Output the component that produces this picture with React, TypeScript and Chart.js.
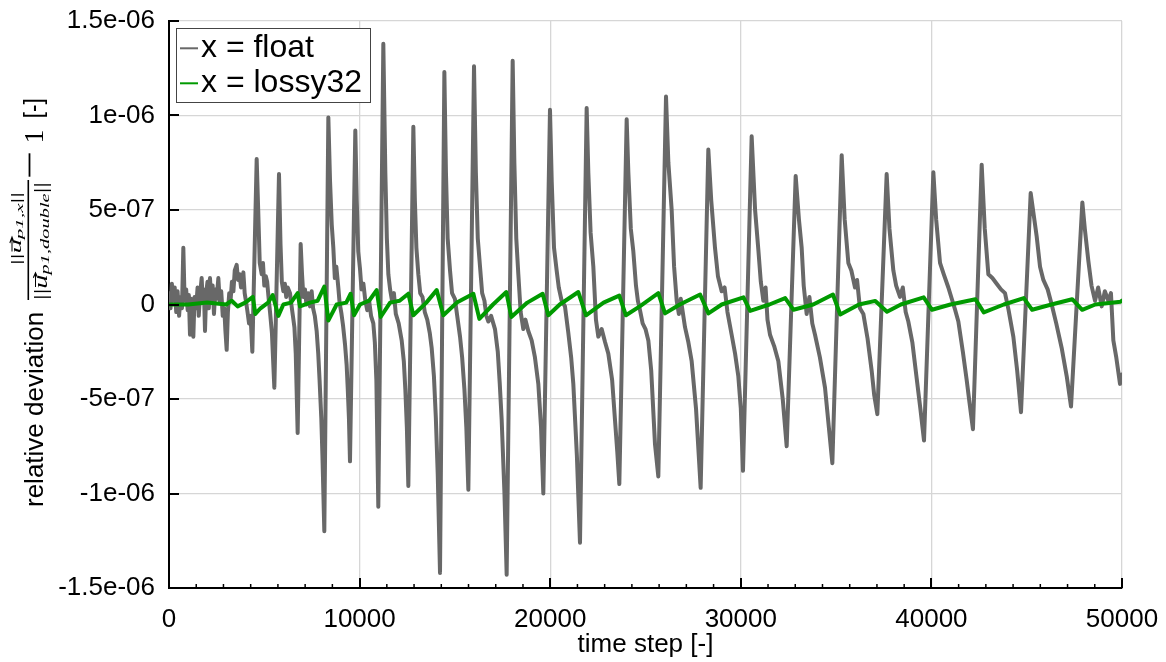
import React, { useEffect, useRef } from 'react';
import { Chart, registerables } from 'chart.js';
Chart.register(...registerables);

// ---------- data (deviation values in units of 1e-7) ----------
const floatStep = [
  0, 80, 150, 230, 300, 380, 450, 530, 600, 680, 752, 820, 900, 980, 1040, 1102, 1160, 1220, 1277, 1340,
  1420, 1500, 1560, 1630, 1714, 1770, 1830, 1889, 1950, 2020, 2090, 2151, 2220, 2290, 2360, 2430, 2500, 2589,
  2660, 2740, 2820, 2900, 2960, 3026, 3090, 3160, 3230, 3300, 3380, 3450, 3551, 3620, 3700, 3780, 3850, 3901,
  3970, 4050, 4120, 4200, 4280, 4372, 4600, 4680, 4760, 4863, 4930, 5000, 5080, 5150, 5230, 5300, 5400, 5527,
  5771, 5850, 5920, 5999, 6080, 6150, 6230, 6349, 6420, 6500, 6580, 6650, 6750, 6908, 6980, 7050, 7135, 7210,
  7300, 7400, 7484, 7560, 7650, 7747, 7830, 7900, 7990, 8050, 8149, 8360, 8450, 8540, 8622, 8700, 8780, 8884,
  8950, 9050, 9130, 9234, 9320, 9380, 9440, 9496, 9775, 9850, 9930, 10020, 10100, 10200, 10300, 10400, 10500,
  10600, 10720, 10800, 10880, 10982, 11245, 11350, 11430, 11508, 11600, 11700, 11800, 11900, 12050, 12208,
  12320, 12400, 12480, 12557, 12820, 12900, 12980, 13082, 13180, 13300, 13420, 13550, 13680, 13782, 13900,
  14000, 14100, 14219, 14447, 14530, 14620, 14744, 14850, 15000, 15120, 15269, 15380, 15500, 15600, 15706,
  16003, 16100, 16200, 16318, 16430, 16550, 16650, 16755, 16900, 17103, 17250, 17354, 17454, 17600, 17716,
  18031, 18120, 18220, 18328, 18450, 18590, 18700, 18850, 19027, 19200, 19377, 19520, 19639, 19989, 20080,
  20200, 20339, 20450, 20600, 20776, 20950, 21100, 21213, 21400, 21563, 21913, 22000, 22120, 22263, 22400,
  22525, 22700, 22880, 23049, 23250, 23399, 23520, 23627, 24012, 24100, 24230, 24362, 24500, 24600, 24711,
  24850, 25000, 25149, 25300, 25499, 25673, 26076, 26200, 26373, 26500, 26636, 26750, 26850, 27073, 27250,
  27422, 27650, 27894, 28296, 28450, 28646, 28800, 28996, 29150, 29300, 29520, 29700, 29870, 30000, 30115,
  30570, 30750, 30920, 31050, 31183, 31300, 31400, 31533, 31750, 31970, 32200, 32407, 32879, 33050, 33194,
  33300, 33456, 33600, 33750, 33894, 34150, 34418, 34620, 34803, 35293, 35450, 35642, 35800, 35992, 36100,
  36250, 36429, 36650, 36866, 37000, 37164, 37653, 37800, 38003, 38150, 38353, 38500, 38650, 38790, 39000,
  39227, 39420, 39612, 40102, 40250, 40452, 40650, 40889, 41100, 41250, 41414, 41650, 41851, 42000, 42180,
  42638, 42800, 42988, 43200, 43425, 43650, 43862, 44050, 44299, 44500, 44701, 45209, 45524, 45700, 45874,
  46100, 46311, 46550, 46835, 47100, 47325, 47920, 48050, 48235, 48400, 48585, 48750, 48934, 49100, 49284,
  49420, 49546, 49700, 49896, 49983,
];
const floatDev = [
  0.6, -0.2, 1.1, 0.2, 0.9, -0.4, 0.7, -0.6, 0.4, -0.2, 3.0, 0.2, 0.8, -0.3, 0.5, -1.6, 0.3, -0.5, -1.7, 0.4,
  -0.2, 0.9, -0.6, 0.5, 1.4, 0.1, 0.8, -1.4, 0.6, 1.2, -0.2, 1.4, 0.1, 1.0, -0.5, 0.8, 0.3, 1.4,
  0.2, 0.7, -0.6, -0.2, -1.4, -2.4, -0.4, 0.6, 0.2, 1.2, 0.7, 1.8, 2.1, 1.3, 1.6, 0.9, 1.2, 1.7,
  0.6, 0.1, -0.4, -1.0, -0.6, -2.5, 7.7, 5.0, 2.2, 1.6, 2.2, 1.0, 1.5, 1.2, 0.3, -0.4, -1.5, -4.4,
  6.9, 3.2, 1.2, 0.7, 1.1, 0.4, 0.9, 0.6, 0.0, -0.6, -1.2, -2.6, -6.8, 3.2, 1.6, 0.4, 0.8, 0.0,
  0.6, -0.1, 0.7, -0.2, -0.6, -1.4, -2.6, -4.0, -6.0, -8.0, -12.0, 9.9, 6.5, 4.2, 3.0, 1.4, 2.0, 0.9,
  0.1, -0.5, -1.1, -2.1, -3.2, -4.5, -6.0, -8.3, 9.2, 5.5, 2.8, 1.9, 0.8, 1.1, 0.2, -0.3, 0.2,
  -0.6, -1.0, -2.0, -4.0, -10.7, 13.8, 7.0, 3.5, 1.6, 0.8, 0.2, 0.6, -0.5, -1.0, -1.9,
  -3.0, -4.5, -6.5, -9.6, 9.4, 5.5, 3.0, 1.6, 0.6, 0.4, -0.4, -0.8, -1.5, -2.3, -3.8,
  -6.0, -9.0, -14.2, 12.3, 7.0, 3.5, 1.8, 0.6, 0.3, -0.6, -1.7, -2.8, -4.5, -6.5, -9.8,
  12.6, 7.0, 3.5, 2.0, 0.6, 0.2, -0.6, -0.9, -0.6, -1.3, -2.5, -4.2, -6.1, -10.0, -14.3,
  12.9, 7.5, 3.5, 1.6, -0.4, -1.3, -0.8, -1.4, -1.9, -2.8, -4.2, -6.5, -10.0, 10.3, 6.5,
  3.0, 1.8, 0.9, 0.2, -0.1, -1.5, -2.8, -4.2, -8.0, -12.6, 10.4, 7.0, 3.8, 2.0, -0.8,
  -1.7, -1.3, -2.0, -2.6, -4.0, -6.1, -7.8, -9.5, 9.8, 7.0, 4.0, 2.8, 1.0, 0.2, -0.3,
  -1.0, -1.3, -1.9, -3.5, -7.4, -9.1, 11.0, 7.5, 5.0, 2.0, 0.2, -0.5, 0.3, -1.2, -2.0,
  -3.0, -5.5, -9.7, 8.2, 5.5, 3.0, 1.5, 0.7, 0.9, -0.4, -1.6, -2.6, -3.8, -5.5, -8.8,
  8.9, 5.0, 2.9, 1.2, 0.2, 0.9, -0.8, -1.6, -2.2, -3.0, -5.0, -7.5, 6.8, 4.5, 3.0,
  1.0, -0.5, 0.4, -1.0, -1.6, -2.8, -4.4, -6.5, -8.4, 7.9, 4.5, 2.2, 1.8, 0.9, 1.3,
  -0.2, -0.5, -1.8, -3.5, -4.8, -5.8, 6.9, 4.0, 1.8, 1.0, 0.4, 0.9, -0.4, -0.9, -2.0,
  -3.9, -5.5, -7.2, 7.0, 4.5, 2.2, 1.6, 0.9, 0.2, -0.3, -0.9, -2.5, -4.0, -5.2, -6.6,
  7.4, 4.0, 1.6, 1.4, 1.1, 0.8, 0.6, -0.3, -1.7, -3.5, -5.7, 5.9, 3.6, 2.0, 1.3,
  0.8, 0.0, -1.0, -2.3, -3.8, -5.4, 5.4, 4.0, 2.3, 1.0, 0.2, 0.9, -0.1, 0.7, 0.2,
  0.6, -1.9, -2.8, -4.2, -3.7,
];
const lossyStep = [
  0, 1000, 2000, 3000, 3290, 3600, 4000, 4400, 4530, 4800, 5200, 5440, 5736, 6000, 6400, 6750, 6870, 7400,
  7800, 8149, 8359, 8797, 9300, 9531, 9706, 10020, 10500, 10895, 11105, 11600, 12100, 12558, 12820, 13500,
  14044, 14394, 15100, 15968, 16283, 17000, 17698, 17961, 18800, 19604, 19902, 20500, 21476, 21878, 22800,
  23623, 23973, 24700, 25673, 26025, 26800, 27864, 28302, 29000, 30140, 30490, 31500, 32329, 32767, 33800,
  34833, 35218, 36200, 37057, 37670, 38400, 39595, 40033, 41000, 42310, 42748, 43800, 44848, 45286, 46300,
  47387, 47912, 48600, 49925, 50000,
];
const lossyDev = [
  0.0, 0.0, 0.1, 0.0, 0.2, -0.1, 0.1, 0.4, -0.5, -0.2, 0.1, 0.5, -0.6, 0.0, 0.1, 0.6, -0.1, 0.1,
  0.2, 0.95, -0.85, 0.0, 0.1, 0.57, -0.57, 0.0, 0.2, 0.76, -0.66, 0.1, 0.2, 0.57, -0.57, 0.1,
  0.76, -0.57, 0.1, 0.57, -0.76, 0.0, 0.66, -0.66, 0.1, 0.57, -0.57, 0.0, 0.66, -0.57, 0.1,
  0.47, -0.57, -0.1, 0.6, -0.47, 0.0, 0.53, -0.47, 0.0, 0.38, -0.34, 0.0, 0.34, -0.28, 0.0,
  0.53, -0.53, 0.0, 0.19, -0.38, 0.0, 0.38, -0.28, 0.0, 0.28, -0.42, 0.0, 0.34, -0.28, 0.0,
  0.28, -0.28, 0.0, 0.15, 0.2,
];
const seriesLabels = ['x = float', 'x = lossy32'];
const seriesColors = ['#686868', '#009a00'];
const xTickValues = [0, 10000, 20000, 30000, 40000, 50000];
const yTickLabels = ['-1.5e-06', '-1e-06', '-5e-07', '0', '5e-07', '1e-06', '1.5e-06'];
const xTitle = 'time step [-]';
const yTitleText = 'relative deviation';

const SANS = "'Liberation Sans', Arial, Helvetica, sans-serif";
const SERIF = "'Liberation Serif', 'Times New Roman', serif";

type Piece = { t: string; font: string; db?: number; arrowB?: number };

function drawRun(ctx: CanvasRenderingContext2D, pieces: Piece[], aStart: number, aLen: number, b: number) {
  const widths = pieces.map((p) => {
    ctx.font = p.font;
    return ctx.measureText(p.t).width;
  });
  const total = widths.reduce((s, w) => s + w, 0);
  ctx.save();
  ctx.translate(aStart, 0);
  ctx.scale(aLen / total, 1);
  let a = 0;
  pieces.forEach((p, i) => {
    ctx.font = p.font;
    ctx.fillText(p.t, a, b + (p.db || 0));
    if (p.arrowB !== undefined) {
      const w = widths[i];
      const ab = p.arrowB;
      ctx.beginPath();
      ctx.lineWidth = 1;
      ctx.moveTo(a + 1, ab);
      ctx.lineTo(a + w + 1, ab);
      ctx.moveTo(a + w - 2, ab - 2.2);
      ctx.lineTo(a + w + 1, ab);
      ctx.lineTo(a + w - 2, ab + 2.2);
      ctx.stroke();
    }
    a += widths[i];
  });
  ctx.restore();
}

const yTitlePlugin = {
  id: 'yTitleMath',
  afterDraw(chart: any) {
    const ctx: CanvasRenderingContext2D = chart.ctx;
    ctx.save();
    ctx.rotate(-Math.PI / 2); // local (a,b) -> screen (b, -a)
    ctx.fillStyle = '#000';
    ctx.strokeStyle = '#000';
    ctx.textBaseline = 'alphabetic';
    ctx.textAlign = 'left';
    ctx.font = `26px ${SANS}`;
    ctx.fillText(yTitleText, -507, 43.3);
    drawRun(ctx, [
      { t: '||', font: `15px ${SERIF}` },
      { t: 'u', font: `italic 15px ${SERIF}`, arrowB: 12 },
      { t: 'p1,x', font: `italic 11px ${SERIF}`, db: 2 },
      { t: '||', font: `15px ${SERIF}` },
    ], -265, 73, 21);
    drawRun(ctx, [
      { t: '||', font: `18px ${SERIF}` },
      { t: 'u', font: `italic 18px ${SERIF}`, arrowB: 35.5 },
      { t: 'p1,double', font: `italic 13px ${SERIF}`, db: 2 },
      { t: '||', font: `18px ${SERIF}` },
    ], -300, 118, 46.5);
    ctx.beginPath();
    ctx.lineWidth = 1.6;
    ctx.moveTo(-300, 28.3);
    ctx.lineTo(-180, 28.3);
    ctx.stroke();
    ctx.beginPath();
    ctx.lineWidth = 1.8;
    ctx.moveTo(-176.7, 29.5);
    ctx.lineTo(-153.3, 29.5);
    ctx.stroke();
    ctx.font = `28px ${SERIF}`;
    ctx.fillText('1', -143.5, 43.3);
    drawRun(ctx, [{ t: '[-]', font: `26px ${SANS}` }], -118.3, 20, 41.5);
    ctx.restore();
  },
};

const legendPlugin = {
  id: 'boxLegend',
  afterDraw(chart: any) {
    const ctx: CanvasRenderingContext2D = chart.ctx;
    ctx.save();
    ctx.fillStyle = '#fff';
    ctx.fillRect(176.5, 28.5, 194, 74);
    ctx.strokeStyle = '#444';
    ctx.lineWidth = 1;
    ctx.strokeRect(176.5, 28.5, 194, 74);
    const lineY = [48.3, 83.3];
    const baseY = [56.5, 91.7];
    seriesLabels.forEach((lab, i) => {
      ctx.beginPath();
      ctx.strokeStyle = seriesColors[i];
      ctx.lineWidth = 2;
      ctx.moveTo(180, lineY[i]);
      ctx.lineTo(198, lineY[i]);
      ctx.stroke();
      ctx.fillStyle = '#000';
      ctx.font = `32px ${SANS}`;
      ctx.textBaseline = 'alphabetic';
      ctx.textAlign = 'left';
      ctx.fillText(lab, 201, baseY[i]);
    });
    ctx.restore();
  },
};

const ticksPlugin = {
  id: 'inwardTicks',
  afterDraw(chart: any) {
    const ctx: CanvasRenderingContext2D = chart.ctx;
    const xs = chart.scales.x;
    const ys = chart.scales.y;
    const { left, bottom } = chart.chartArea;
    ctx.save();
    ctx.strokeStyle = '#000';
    ctx.lineWidth = 2;
    ys.ticks.forEach((t: any) => {
      const y = Math.round(ys.getPixelForValue(t.value));
      ctx.beginPath();
      ctx.moveTo(left, y);
      ctx.lineTo(left + 10, y);
      ctx.stroke();
    });
    xs.ticks.forEach((t: any) => {
      const x = Math.round(xs.getPixelForValue(t.value));
      ctx.beginPath();
      ctx.moveTo(x, bottom);
      ctx.lineTo(x, bottom - 10);
      ctx.stroke();
    });
    ctx.lineWidth = 1.5;
    for (let i = 0; i < xTickValues.length - 1; i++) {
      const a = xTickValues[i];
      const step = (xTickValues[i + 1] - a) / 7;
      for (let k = 1; k < 7; k++) {
        const x = xs.getPixelForValue(a + k * step);
        ctx.beginPath();
        ctx.moveTo(x, bottom);
        ctx.lineTo(x, bottom - 4);
        ctx.stroke();
      }
    }
    ctx.restore();
  },
};

export default function App() {
  const ref = useRef<HTMLCanvasElement>(null);
  useEffect(() => {
    const canvas = ref.current;
    if (!canvas) return;
    const floatData = floatStep.map((s, i) => ({ x: s, y: floatDev[i] }));
    const lossyData = lossyStep.map((s, i) => ({ x: s, y: lossyDev[i] }));
    const chart = new Chart(canvas, {
      type: 'line',
      data: {
        datasets: [
          {
            label: seriesLabels[0],
            data: floatData,
            borderColor: seriesColors[0],
            borderWidth: 4,
            pointRadius: 0,
            tension: 0,
            borderJoinStyle: 'round',
            borderCapStyle: 'round',
            order: 2,
          },
          {
            label: seriesLabels[1],
            data: lossyData,
            borderColor: seriesColors[1],
            borderWidth: 4,
            pointRadius: 0,
            tension: 0,
            borderJoinStyle: 'round',
            borderCapStyle: 'round',
            order: 1,
          },
        ],
      },
      options: {
        responsive: false,
        devicePixelRatio: 1,
        animation: false,
        events: [],
        layout: { padding: { left: 0, right: 44, top: 21, bottom: 0 } },
        plugins: { legend: { display: false }, tooltip: { enabled: false } },
        scales: {
          x: {
            type: 'linear',
            min: 0,
            max: 50000,
            afterFit: (s: any) => { s.height = 74; s.paddingLeft = 0; s.paddingRight = 0; },
            ticks: {
              stepSize: 10000,
              color: '#000',
              padding: 16,
              maxRotation: 0,
              font: { family: SANS, size: 26 },
              callback: (v: any) => String(v),
            },
            grid: { color: '#d6d6d6', lineWidth: 1.3, drawTicks: false },
            border: { display: true, color: '#000', width: 2 },
            title: {
              display: true,
              text: xTitle,
              color: '#000',
              font: { family: SANS, size: 26 },
              padding: { top: 0, bottom: 2 },
            },
          },
          y: {
            type: 'linear',
            min: -15,
            max: 15,
            afterFit: (s: any) => { s.width = 169; s.paddingTop = 0; s.paddingBottom = 0; },
            ticks: {
              stepSize: 5,
              color: '#000',
              padding: 14,
              font: { family: SANS, size: 26 },
              callback: (_v: any, i: number) => yTickLabels[i],
            },
            grid: { color: '#d6d6d6', lineWidth: 1.3, drawTicks: false },
            border: { display: true, color: '#000', width: 2 },
          },
        },
      },
      plugins: [ticksPlugin, legendPlugin, yTitlePlugin],
    } as any);
    return () => chart.destroy();
  }, []);
  return (
    <div style={{ position: 'absolute', left: 0, top: 0, width: 1166, height: 662, background: '#fff' }}>
      <canvas ref={ref} width={1166} height={662} style={{ display: 'block', width: 1166, height: 662 }} />
    </div>
  );
}
